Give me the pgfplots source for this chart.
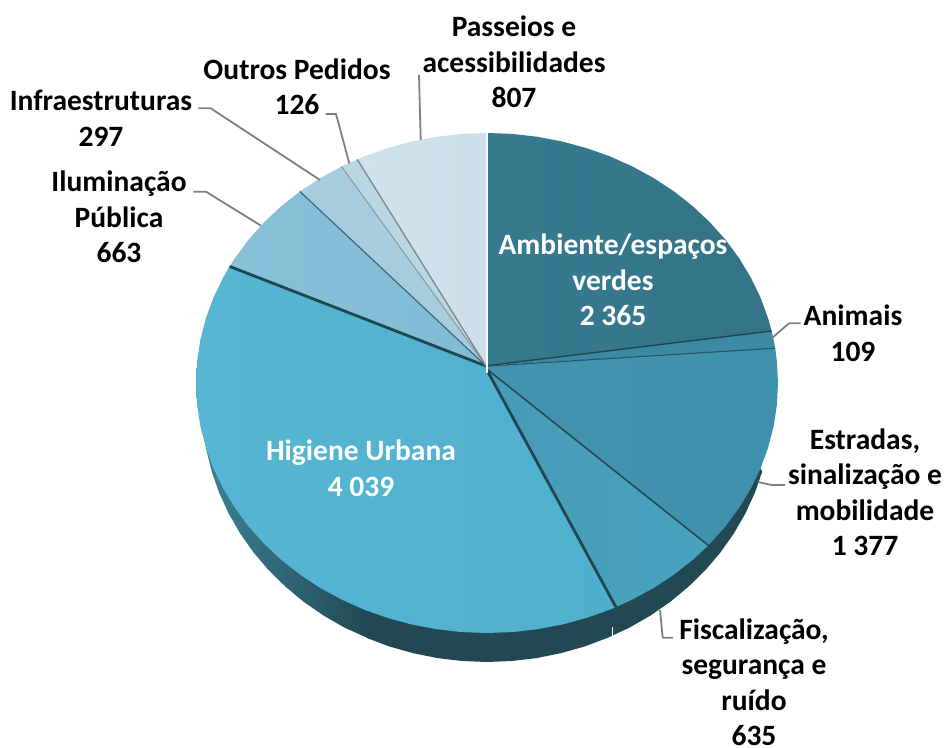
\documentclass[border=0pt]{standalone}
\usepackage{pgfplots}
\pgfplotsset{compat=1.18}
\usepackage{fontspec}
\setmainfont{Carlito}
\definecolor{amb1}{HTML}{377B8F}\definecolor{amb2}{HTML}{347388}
\definecolor{ani}{HTML}{3C89A3}
\definecolor{est1}{HTML}{3F90AC}\definecolor{est2}{HTML}{4293AE}
\definecolor{fis1}{HTML}{49A3BE}\definecolor{fis2}{HTML}{469BB7}
\definecolor{hig1}{HTML}{56B5D3}\definecolor{hig2}{HTML}{4FB0CE}
\definecolor{ilu1}{HTML}{88C1D8}\definecolor{ilu2}{HTML}{7FBCD5}
\definecolor{inf}{HTML}{A6CDDF}
\definecolor{out}{HTML}{B9D6E3}
\definecolor{pas1}{HTML}{D0E2EC}\definecolor{pas2}{HTML}{CCDFEA}
\definecolor{sideA}{HTML}{3D8598}\definecolor{sideB}{HTML}{214853}
\definecolor{sep}{HTML}{1F4752}
\definecolor{lead}{HTML}{7F7F7F}
\tikzset{lab/.style={font=\fontsize{29.5}{35.5}\selectfont\bfseries,align=center,text=black,inner sep=0pt},
  leader/.style={draw=lead,line width=1.8pt}}
\begin{document}
\begin{tikzpicture}
\begin{axis}[scale only axis,width=945pt,height=747pt,xmin=0,xmax=945,ymin=0,ymax=747,
  y dir=reverse,axis lines=none,clip=false,
  every axis plot/.append style={no markers,line join=round}]
% invisible frame: keeps the page as large as the axis
\addplot[draw=none] coordinates {(0,0)(945,747)};
% side of the pie
\addplot[draw=none,fill=sideB] coordinates {(760.5,468.5)(762.3,471.5)(754.8,492.9)(745.3,513.6)(733.8,533.5)(720.5,552.4)(705.3,570.2)(688.5,586.7)(670.2,601.9)(650.5,615.5)(629.5,627.6)(607.4,637.9)(584.5,646.5)(560.8,653.2)(536.5,658.1)(511.8,661)(487,662)(462.2,661)(437.5,658.1)(413.2,653.2)(389.5,646.5)(366.6,637.9)(360,600)(487,500)} -- cycle;
\addplot[draw=none,left color=sideA,right color=sideB] coordinates {(370,639)(344.5,627.6)(323.5,615.5)(303.8,601.9)(285.5,586.7)(268.7,570.2)(253.5,552.4)(240.2,533.5)(228.7,513.6)(219.2,492.9)(211.7,471.5)(206.3,449.6)(203.1,427.4)(197.1,404.8)(300,420)(370,500)} -- cycle;
% slices
\addplot[draw=none,left color=amb1,right color=amb2] coordinates {(488,365.5)(488,133)(512.4,133.9)(537.5,136.8)(562.3,141.5)(586.5,148.1)(610,156.4)(632.5,166.5)(653.9,178.2)(674.1,191.5)(692.8,206.2)(709.9,222.3)(725.4,239.6)(739,258)(750.7,277.3)(760.5,297.5)(768.1,318.3)(771.6,331)} -- cycle;
\addplot[draw=none,fill=ani] coordinates {(488,365.5)(771.6,331)(773.6,339.6)(775.2,348.2)} -- cycle;
\addplot[draw=none,left color=est2,right color=est1] coordinates {(488,366)(775.2,348.2)(776.9,361.2)(778,383)(776.9,404.8)(773.6,426.4)(768.1,447.7)(760.5,468.5)(750.7,488.7)(739,508)(725.4,526.4)(708.3,545.4)(488,372)} -- cycle;
\addplot[draw=none,left color=fis2,right color=fis1] coordinates {(488,370)(708.3,545.4)(692.8,559.8)(674.1,574.5)(653.9,587.8)(632.5,599.5)(615.9,607.1)} -- cycle;
\addplot[draw=none,left color=hig1,right color=hig2] coordinates {(488,372)(615.9,607.1)(610,609.6)(586.5,617.9)(562.3,624.5)(537.5,629.2)(512.4,632.1)(487,633)(461.6,632.1)(436.5,629.2)(411.7,624.5)(387.5,617.9)(364,609.6)(341.5,599.5)(320.1,587.8)(299.9,574.5)(281.2,559.8)(264.1,543.7)(248.6,526.4)(235,508)(223.3,488.7)(213.5,468.5)(205.9,447.7)(200.4,426.4)(197.1,404.8)(196,383)(197.1,361.2)(200.4,339.6)(205.9,318.3)(213.5,297.5)(223.3,277.3)(229.6,266.4)(486,366)(487,372)} -- cycle;
\addplot[draw=none,left color=ilu1,right color=ilu2] coordinates {(486,366)(229.6,266.4)(235,258)(248.6,239.6)(264.1,222.3)(281.2,206.2)(299.9,191.5)} -- cycle;
\addplot[draw=none,fill=inf] coordinates {(486,366)(299.9,191.5)(320.1,178.2)(341.5,166.5)} -- cycle;
\addplot[draw=none,fill=out] coordinates {(486,366)(341.5,166.5)(357.2,159.3)} -- cycle;
\addplot[draw=none,left color=pas1,right color=pas2] coordinates {(486,366)(357.2,159.3)(364,156.4)(387.5,148.1)(411.7,141.5)(436.5,136.8)(461.6,133.9)(487,133)} -- cycle;
% separators
\addplot[draw=sep,line width=1.4pt] coordinates {(488,365.5)(771.6,331)};
\addplot[draw=sep!75!ani,line width=1.2pt] coordinates {(488,366)(775.2,348.2)};
\addplot[draw=sep,line width=1.5pt] coordinates {(488,370)(708.3,545.4)};
\addplot[draw=sep,line width=2.8pt] coordinates {(488,372)(615.9,607.1)};
\addplot[draw=sep,line width=2.8pt] coordinates {(486,366)(229.6,266.4)};
\addplot[draw=sep!70!ilu2,line width=1.2pt] coordinates {(486,366)(299.9,191.5)};
\addplot[draw=lead!70!inf,line width=1pt] coordinates {(486,366)(341.5,166.5)};
\addplot[draw=lead,line width=1.2pt] coordinates {(486,366)(357.2,159.3)};
\addplot[draw=white,line width=2.2pt] coordinates {(487,373)(487,133)};
% notch in the side
\addplot[draw=white,line width=1pt] coordinates {(612.5,627)(612.5,637)};
% leader lines
\addplot[leader] coordinates {(771.7,338.3)(789,323.3)(800.7,323.3)};
\addplot[leader] coordinates {(758,482)(771.7,485)(785,485)};
\addplot[leader] coordinates {(660,610)(662.7,637.7)(673,637.7)};
\addplot[leader] coordinates {(420.7,140)(419,75)};
\addplot[leader] coordinates {(349.3,163.3)(336,114)(325.7,114)};
\addplot[leader] coordinates {(320,180)(210.7,108.3)(198.3,108.3)};
\addplot[leader] coordinates {(261,225.7)(206,191.7)(193.3,191.7)};
% labels
\node[lab] at (axis cs:514,62) {Passeios e\\acessibilidades\\807};
\node[lab] at (axis cs:297,87) {Outros Pedidos\\126};
\node[lab] at (axis cs:101,118) {Infraestruturas\\297};
\node[lab] at (axis cs:119,217) {Iluminação\\Pública\\663};
\node[lab] at (axis cs:853,333) {Animais\\109};
\node[lab] at (axis cs:865,492) {Estradas,\\sinalização e\\mobilidade\\1 377};
\node[lab] at (axis cs:754,682) {Fiscalização,\\segurança e\\ruído\\635};
\node[lab,text=white] at (axis cs:613,280) {Ambiente/espaços\\verdes\\2 365};
\node[lab,text=white] at (axis cs:361,468) {Higiene Urbana\\4 039};
\end{axis}
\end{tikzpicture}
\end{document}
